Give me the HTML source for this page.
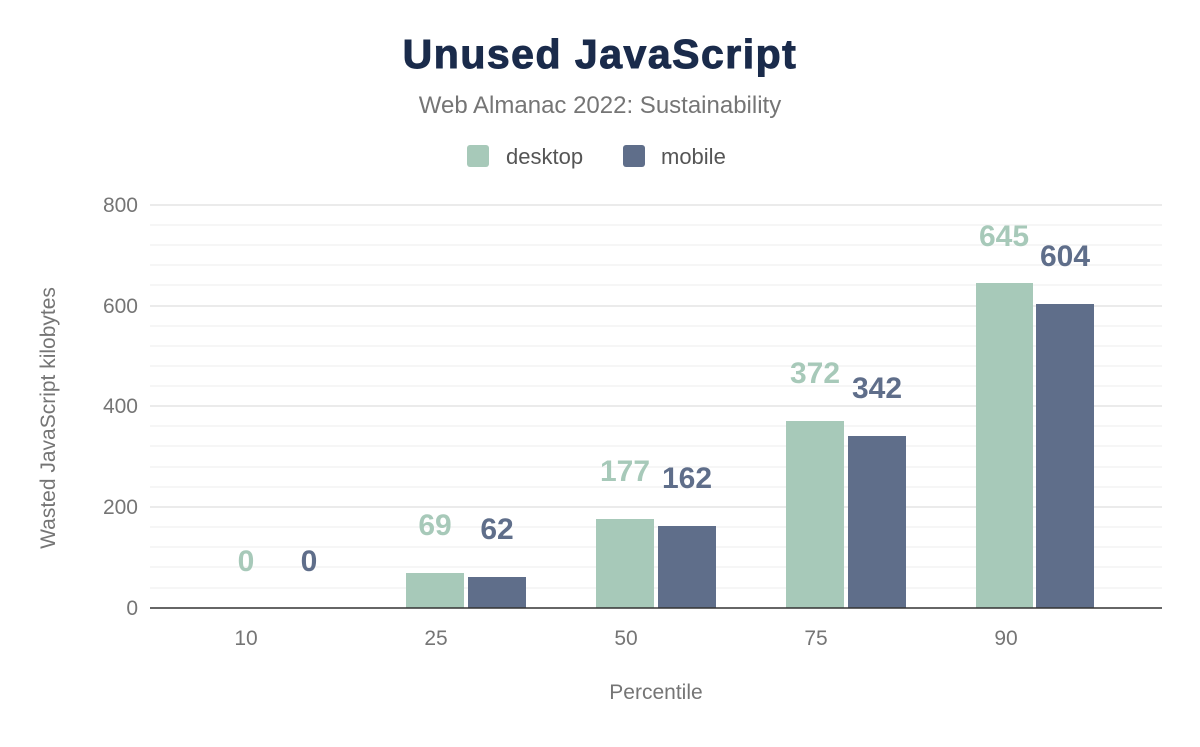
<!DOCTYPE html><html><head><style>body{margin:0;background:#fff}</style></head><body>
<svg width="1200" height="742" xmlns="http://www.w3.org/2000/svg" font-family="Liberation Sans, sans-serif">
<text x="600" y="68" text-anchor="middle" font-size="41" font-weight="900" letter-spacing="1.5" fill="#1a2b4b" stroke="#1a2b4b" stroke-width="1">Unused JavaScript</text>
<text x="600" y="113" text-anchor="middle" font-size="24" fill="#757575">Web Almanac 2022: Sustainability</text>
<rect x="467" y="145" width="22" height="22" rx="3" fill="#a7c9b9"/><text x="506" y="164" font-size="22" fill="#555">desktop</text>
<rect x="623" y="145" width="22" height="22" rx="3" fill="#5f6e8a"/><text x="661" y="164" font-size="22" fill="#555">mobile</text>
<g stroke="#f3f3f3" stroke-width="1.5">
<line x1="150" x2="1162" y1="225" y2="225"/><line x1="150" x2="1162" y1="245" y2="245"/><line x1="150" x2="1162" y1="265" y2="265"/><line x1="150" x2="1162" y1="285" y2="285"/>
<line x1="150" x2="1162" y1="326" y2="326"/><line x1="150" x2="1162" y1="346" y2="346"/><line x1="150" x2="1162" y1="366" y2="366"/><line x1="150" x2="1162" y1="386" y2="386"/>
<line x1="150" x2="1162" y1="426" y2="426"/><line x1="150" x2="1162" y1="446" y2="446"/><line x1="150" x2="1162" y1="467" y2="467"/><line x1="150" x2="1162" y1="487" y2="487"/>
<line x1="150" x2="1162" y1="527" y2="527"/><line x1="150" x2="1162" y1="547" y2="547"/><line x1="150" x2="1162" y1="567" y2="567"/><line x1="150" x2="1162" y1="588" y2="588"/>
</g>
<g stroke="#ebebeb" stroke-width="2">
<line x1="150" x2="1162" y1="205" y2="205"/><line x1="150" x2="1162" y1="306" y2="306"/><line x1="150" x2="1162" y1="406" y2="406"/><line x1="150" x2="1162" y1="507" y2="507"/>
</g>
<g font-size="21" fill="#757575" text-anchor="end">
<text x="138" y="212">800</text><text x="138" y="313">600</text><text x="138" y="413">400</text><text x="138" y="514">200</text><text x="138" y="615">0</text>
</g>
<text transform="translate(55,418) rotate(-90)" text-anchor="middle" font-size="21" fill="#757575">Wasted JavaScript kilobytes</text>
<g fill="#a7c9b9">
<rect x="406" y="573" width="58" height="35"/><rect x="596" y="519" width="58" height="89"/><rect x="786" y="421" width="58" height="187"/><rect x="976" y="283" width="57" height="325"/>
</g>
<g fill="#5f6e8a">
<rect x="468" y="577" width="58" height="31"/><rect x="658" y="526" width="58" height="82"/><rect x="848" y="436" width="58" height="172"/><rect x="1036" y="304" width="58" height="304"/>
</g>
<line x1="150" x2="1162" y1="608" y2="608" stroke="#333" stroke-width="1.5"/>
<g font-size="30" font-weight="bold" text-anchor="middle">
<g fill="#a7c9b9"><text x="246" y="571">0</text><text x="435" y="535">69</text><text x="625" y="481">177</text><text x="815" y="383">372</text><text x="1004" y="246">645</text></g>
<g fill="#5f6e8a"><text x="309" y="571">0</text><text x="497" y="539">62</text><text x="687" y="488">162</text><text x="877" y="398">342</text><text x="1065" y="266">604</text></g>
</g>
<g font-size="21" fill="#757575" text-anchor="middle">
<text x="246" y="645">10</text><text x="436" y="645">25</text><text x="626" y="645">50</text><text x="816" y="645">75</text><text x="1006" y="645">90</text>
</g>
<text x="656" y="699" text-anchor="middle" font-size="21" fill="#757575">Percentile</text>
</svg></body></html>
